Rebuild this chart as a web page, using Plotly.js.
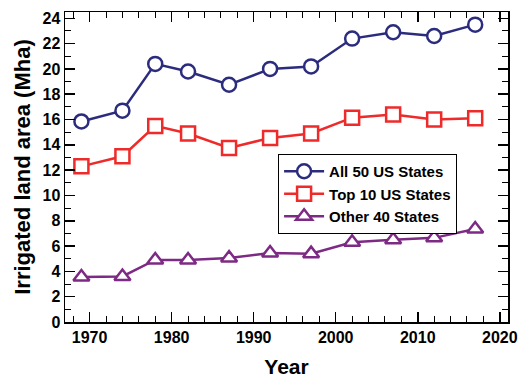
<!DOCTYPE html>
<html>
<head>
<meta charset="utf-8">
<script src="https://cdn.plot.ly/plotly-3.0.1.min.js"></script>
<style>html,body{margin:0;padding:0;background:#fff;}#chart{width:518px;height:380px;}</style>
</head>
<body>
<div id="chart"></div>
<script>
const years = [1969, 1974, 1978, 1982, 1987, 1992, 1997, 2002, 2007, 2012, 2017];
const all50 = [15.85, 16.7, 20.4, 19.8, 18.75, 20.0, 20.2, 22.4, 22.9, 22.6, 23.5];
const top10 = [12.3, 13.1, 15.5, 14.9, 13.75, 14.55, 14.9, 16.15, 16.4, 16.0, 16.1];
const other40 = [3.55, 3.6, 4.9, 4.9, 5.05, 5.45, 5.4, 6.3, 6.5, 6.65, 7.35];
const seriesNames = ["All 50 US States", "Top 10 US States", "Other 40 States"];

const F = "Liberation Sans, Arial, sans-serif";
function tr(y, name, color, symbol) {
  return {
    x: years, y: y, name: name, type: "scatter", mode: "lines+markers",
    line: {color: color, width: 2.5},
    marker: {symbol: symbol, size: 14, color: "#fff", line: {color: color, width: 2.5}},
    cliponaxis: false
  };
}
const data = [
  tr(all50, seriesNames[0], "#2C2C7E", "circle"),
  tr(top10, seriesNames[1], "#EE2A2A", "square"),
  tr(other40, seriesNames[2], "#7D2A84", "triangle-up")
];
const axisCommon = {
  showline: true, linecolor: "#000", linewidth: 1.5, mirror: "allticks",
  ticks: "inside", ticklen: 10, tickwidth: 1.5, tickcolor: "#000",
  showgrid: false, zeroline: false,
  tickfont: {family: F, size: 16, color: "#000", weight: "bold"}
};
const layout = {
  width: 518, height: 380,
  margin: {l: 65, r: 10, t: 12, b: 58},
  paper_bgcolor: "#fff", plot_bgcolor: "#fff",
  showlegend: true,
  legend: {
    x: 0.481, y: 0.542, xanchor: "left", yanchor: "top",
    bgcolor: "#fff", bordercolor: "#000", borderwidth: 1,
    font: {family: F, size: 15, color: "#000", weight: "bold"},
    itemwidth: 40
  },
  xaxis: Object.assign({}, axisCommon, {
    range: [1967, 2021], dtick: 10, tick0: 1970,
    minor: {dtick: 2, tick0: 1970, ticks: "inside", ticklen: 6, tickwidth: 1, tickcolor: "#000", showgrid: false},
    title: {text: "Year", font: {family: F, size: 21, color: "#000", weight: "bold"}, standoff: 14}
  }),
  yaxis: Object.assign({}, axisCommon, {
    range: [0, 24.5], dtick: 2, tick0: 0,
    minor: {dtick: 1, ticks: "inside", ticklen: 6, tickwidth: 1, tickcolor: "#000", showgrid: false},
    title: {text: "Irrigated land area (Mha)", font: {family: F, size: 22, color: "#000", weight: "bold"}, standoff: 6}
  })
};
Plotly.newPlot("chart", data, layout, {displayModeBar: false, staticPlot: true});
</script>
</body>
</html>
